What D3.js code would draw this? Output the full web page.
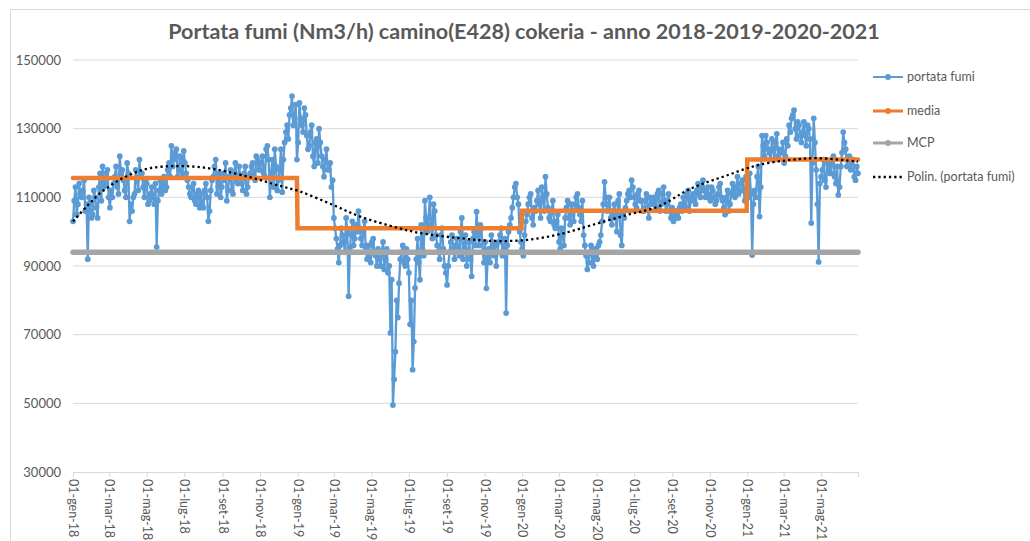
<!DOCTYPE html>
<html><head><meta charset="utf-8">
<script src="https://cdn.jsdelivr.net/npm/d3@7"></script>
<style>body{margin:0;background:#fff}svg{display:block}</style>
</head><body><svg id="c" width="1030" height="541"></svg>
<script>
// ---------------- DATA ----------------
const chartTitle = "Portata fumi (Nm3/h) camino(E428) cokeria - anno 2018-2019-2020-2021";
const startDate = "2018-01-01";
const endDate = "2021-06-30";
// portata fumi, thousands of Nm3/h, readings on days 0,4,8,... from 01-gen-18
const flowK = [
 103,113,108,111, 112,106,92,108, 105,110,104,117, 119,114,118,107,
 110,116,113,122, 118,112,120,103, 106,111,115,121, 117,110,114,109,
 113,108,95.5,112, 111,116,113,120, 125,121,124,118, 121,123.5,117,113,
 110,114,108,112, 111,107,114,103, 112,116,121,113, 110,117,120,112,
 118,111,120,114, 116,112,119,113, 117,120,115,121, 118,122,116,125,
 110,121,124,112, 118,111.5,126,131, 134,139.5,133,121, 137.5,131,136,128,
 125,131,119,127, 130,122,116,124, 118,113,104,98, 91,101,97,104,
 81.2,99,96,102, 106,98,100,95, 96,91,98,93, 95,90,97,92,
 88,70.5,49.5,65, 75,92,96,90, 92,73,59.8,83.6, 98,86,95,109,
 100,110,98,106, 96,92,101,90, 84.5,94,99,92, 98,93,104,95,
 90,97,87,100, 105.8,96,101,91, 83.5,95,99,93, 90,97,101,95,
 76.3,100,104,110, 114,108,97,93, 103,108,111,102, 106,112,104,110,
 116,107,103,109, 101,105,95,99, 104,109,102,106, 108,111,105,109,
 96,89,94,91, 95,92,97,103, 114.5,106,110,102, 108,100,111,96,
 104,109,112,115, 110,107,112,109, 106,111,104,109, 110,107,112,108,
 113,106,111,104, 103,106,104,108, 110,107,112,109, 111,108,114,110,
 115,110,113,109, 112,108,111,114, 109,105,112,108, 114,110,116,112,
 115,109,113,117, 93.2,112,116,104.4, 128,122,126,123, 127,121,128.5,124,
 123,120,127,131, 133,135.4,127,131, 126,132,125,130, 102.5,133,118,91.2,
 116,121,113,119, 117,122,114,110.7, 119,129,124,121, 118,121,115,117
];
// portata fumi, thousands of Nm3/h, readings on days 2,6,10,... from 01-gen-18
const flowKDay2 = [
 109,105,114,110, 115,108,110,104, 112,107,113,109, 113,117,110,112,
 114,119,111,117, 115,110,117,108, 110,118,112,116, 113,115,108,111,
 110,114,109,115, 114,112,118,116, 119,123,116,122, 117,120,115,111,
 113,109,111,107, 108,112,110,106, 115,119,111,117, 113,115,109,116,
 112,117,115,119, 114,117,111,116, 119,116,122,118, 120,117,124,121,
 117,113,119,115, 124,121,129,127, 136,131,137,126, 133,129,134,124,
 129,122,126,120, 126,119,121,118, 120,115,101,95, 96,99,94,100,
 95,103,98,100, 101,96,103,92, 93,97,94,90, 92,94,89,95,
 90,86,57,80, 85,94,91,95, 88,80,68,92, 91,102,93,104,
 104,102,108,99, 94,99,95,88, 90,97,95,96, 95,100,92,99,
 94,92,98,96, 99,102,94,97, 92,91,97,96, 94,99,93,98,
 96,102,107,113, 110,100,95,99, 105,110,104,107, 109,108,113,106,
 111,104,106,102, 103,97,101,96, 107,104,108,103, 110,107,103,99,
 93,91,96,90, 93,96,99,108, 110,108,104,106, 104,109,99,105,
 107,111,110,113, 108,111,109,106, 109,107,110,108, 109,111,106,111,
 109,108,106,107, 105,104,107,106, 108,111,106,110, 109,112,111,113,
 112,111,110,113, 110,109,113,110, 107,110,106,111, 112,113,111,114,
 112,116,110,111, 108,110,119,113, 125,128,124,121, 124,126,122,123,
 126,122,125,129, 134,130,132,128, 129,128,131,127, 120,126,108,114,
 118,115,120,117, 120,116,119,113, 123,126,119,122, 120,116,119
];
const mediaYears = [2018, 2019, 2020, 2021];
const mediaValues = [115600, 101000, 106100, 121000];
const mcpValue = 94000;
// polynomial trendline, read at day offsets from 01-gen-18 (thousands)
const trendDayOffsets = [0,22,44,71,98,125,163,206,250,293,331,369,421,467,528,564,629,683,738,792,845,901,951,1005,1060,1114,1167,1211,1276];
const trendValuesK = [103.0,107.3,111.2,114.6,117.0,118.5,119.1,118.8,117.5,115.6,113.6,111.7,107.9,104.4,101.1,99.6,98.1,97.3,97.6,99.3,102.0,104.9,107.3,112.6,116.2,119.4,120.9,121.4,120.4];
const yTicks = [30000, 50000, 70000, 90000, 110000, 130000, 150000];
const xTickLabels = ["01-gen-18","01-mar-18","01-mag-18","01-lug-18","01-set-18","01-nov-18",
 "01-gen-19","01-mar-19","01-mag-19","01-lug-19","01-set-19","01-nov-19",
 "01-gen-20","01-mar-20","01-mag-20","01-lug-20","01-set-20","01-nov-20",
 "01-gen-21","01-mar-21","01-mag-21"];
const seriesNames = ["portata fumi", "media", "MCP", "Polin. (portata fumi)"];
const seriesColors = ["#5B9BD5", "#ED7D31", "#A5A5A5", "#000000"];

// ---------------- CHART ----------------
const svg = d3.select("#c");
const FONT = "Lato, 'Liberation Sans', sans-serif";
const TXT = "#595959";
const parse = d3.utcParse("%Y-%m-%d");
const t0 = parse(startDate), t1 = parse(endDate);
const itMonths = {gen:0,feb:1,mar:2,apr:3,mag:4,giu:5,lug:6,ago:7,set:8,ott:9,nov:10,dic:11};
const parseIt = s => { const [d,m,yy] = s.split("-"); return new Date(Date.UTC(2000+ +yy, itMonths[m], +d)); };

const x = d3.scaleUtc().domain([t0, t1]).range([73, 858]);
const y = d3.scaleLinear().domain([30000, 150000]).range([472, 60]);

svg.append("rect").attr("x",10.5).attr("y",9.5).attr("width",1030).attr("height",540)
  .attr("fill","#fff").attr("stroke","#d9d9d9");

// gridlines + y labels
const yAxis = d3.axisLeft(y).tickValues(yTicks).tickSize(0).tickPadding(12).tickFormat(d3.format("d"));
const gy = svg.append("g").attr("transform","translate(73,0)").call(yAxis);
gy.select(".domain").remove();
gy.selectAll("text").attr("font-family",FONT).attr("font-size",13).attr("fill",TXT);
svg.append("g").selectAll("line").data(yTicks.filter(v=>v!==30000)).join("line")
  .attr("x1",73).attr("x2",858).attr("y1",d=>y(d)).attr("y2",d=>y(d))
  .attr("stroke","#d9d9d9").attr("stroke-width",1);

// x axis
const tickDates = xTickLabels.map(parseIt);
const xAxis = d3.axisBottom(x).tickValues(tickDates).tickSize(5).tickSizeOuter(5)
  .tickFormat((d,i)=>xTickLabels[i]);
const gx = svg.append("g").attr("transform",`translate(0,${y(30000)})`).call(xAxis);
gx.select(".domain").attr("stroke","#d9d9d9");
gx.selectAll(".tick line").attr("stroke","#d9d9d9");
gx.selectAll("text").attr("font-family",FONT).attr("font-size",12.5).attr("fill",TXT)
  .attr("transform","rotate(90)").attr("text-anchor","start")
  .attr("x",7).attr("y",0).attr("dy","0.35em");

// series data
const flowData = [
  ...flowK.map((v,i)=>({d:d3.utcDay.offset(t0, i*4), v:v*1000})),
  ...flowKDay2.map((v,i)=>({d:d3.utcDay.offset(t0, 2+i*4), v:v*1000}))
].sort((a,b)=>a.d-b.d);
const days = d3.utcDay.range(t0, d3.utcDay.offset(t1,1));
const mediaData = days.map(d=>({d, v: mediaValues[mediaYears.indexOf(d.getUTCFullYear())]}));
const mcpData = days.map(d=>({d, v: mcpValue}));
const trendData = trendDayOffsets.map((o,i)=>({d:d3.utcDay.offset(t0,o), v:trendValuesK[i]*1000}));

const line = d3.line().x(p=>x(p.d)).y(p=>y(p.v));

svg.append("path").datum(flowData).attr("d",line).attr("fill","none")
  .attr("stroke",seriesColors[0]).attr("stroke-width",2.3).attr("stroke-linejoin","round");
svg.append("g").selectAll("circle").data(flowData).join("circle")
  .attr("cx",p=>x(p.d)).attr("cy",p=>y(p.v)).attr("r",2.9).attr("fill",seriesColors[0]);

svg.append("path").datum(mediaData).attr("d",line).attr("fill","none")
  .attr("stroke",seriesColors[1]).attr("stroke-width",4.5).attr("stroke-linecap","round");
svg.append("path").datum(mcpData).attr("d",line).attr("fill","none")
  .attr("stroke",seriesColors[2]).attr("stroke-width",5.5).attr("stroke-linecap","round");

svg.append("path").datum(trendData).attr("d",d3.line().x(p=>x(p.d)).y(p=>y(p.v)).curve(d3.curveCatmullRom))
  .attr("fill","none").attr("stroke",seriesColors[3]).attr("stroke-width",2.3).attr("stroke-dasharray","2.3 3");

// title
const tt = svg.append("text").attr("x",524).attr("y",39).attr("text-anchor","middle")
  .attr("font-family",FONT).attr("font-weight","bold").attr("font-size",20).attr("fill",TXT)
  .text(chartTitle);
const tw = tt.node().getComputedTextLength();
tt.attr("font-size", 20*712/tw);

// legend
const legY = [77, 111, 143, 177];
const lg = svg.append("g");
seriesNames.forEach((n,i)=>{
  const g = lg.append("g").attr("transform",`translate(0,${legY[i]})`);
  const l = g.append("line").attr("x1",873).attr("x2",903).attr("y1",0).attr("y2",0)
    .attr("stroke",seriesColors[i]).attr("stroke-width", i===0?2:(i===3?2.3:3));
  if(i===3) l.attr("stroke-dasharray","2.3 3");
  else g.append("circle").attr("cx",888).attr("cy",0).attr("r",3).attr("fill",seriesColors[i]);
  g.append("text").attr("x",907).attr("y",0).attr("dy","0.35em")
    .attr("font-family",FONT).attr("font-size",12.5).attr("fill",TXT).text(n);
});
</script></body></html>
